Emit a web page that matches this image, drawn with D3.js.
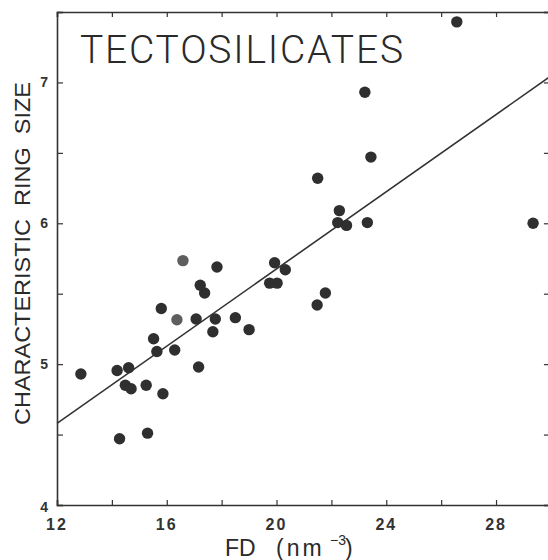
<!DOCTYPE html>
<html>
<head>
<meta charset="utf-8">
<script src="https://cdn.jsdelivr.net/npm/d3@7"></script>
<style>
  body { margin: 0; background: #fff; }
  svg { display: block; }
  text { white-space: pre; }
</style>
</head>
<body>
<div id="chart"></div>
<script>
// framework density vs characteristic ring size
const fd = [12.87, 14.19, 14.61, 14.49, 14.70, 15.25, 15.86, 14.28, 15.30, 17.16,
  15.52, 15.64, 16.29, 15.80, 16.37, 17.07, 17.77, 18.50, 17.68, 19.00,
  17.22, 17.38, 16.59, 17.83, 19.93, 20.32, 19.75, 20.02, 21.78, 21.48,
  22.29, 22.23, 22.55, 23.31, 21.50, 23.44, 23.22, 26.57, 29.35]
const ringSize = [4.93, 4.955, 4.975, 4.85, 4.825, 4.85, 4.79, 4.47, 4.51, 4.98,
  5.18, 5.09, 5.10, 5.395, 5.315, 5.32, 5.32, 5.33, 5.23, 5.245,
  5.56, 5.505, 5.735, 5.69, 5.72, 5.67, 5.575, 5.575, 5.505, 5.42,
  6.09, 6.005, 5.985, 6.005, 6.32, 6.47, 6.93, 7.43, 6.00]
// two points print lighter in the scan
const lighter = [14, 22]

// least squares line
const fitX = [12, 30]
const fitY = [4.58, 7.046]

const xTickLabels = [12, 16, 20, 24, 28]
const yTickLabels = [4, 5, 6, 7]

let width = 548
let height = 560
let margin = { top: 12, left: 57, bottom: 55 }

let x = d3.scaleLinear()
  .domain([12, 30])
  .range([margin.left, margin.left + 18 * 27.44])

let y = d3.scaleLinear()
  .domain([4, 7.5])
  .range([height - margin.bottom, margin.top])

let svg = d3.select("#chart")
  .append("svg")
  .attr("width", width)
  .attr("height", height)

const ink = "#333"

// frame: ticks point inward on all four sides
svg.append("g")
  .attr("transform", `translate(0,${y(4)})`)
  .call(d3.axisTop(x).tickValues(d3.range(12, 30.1, 2)).tickSize(5).tickFormat(""))
svg.append("g")
  .attr("transform", `translate(0,${y(7.5)})`)
  .call(d3.axisBottom(x).tickValues(d3.range(12, 30.1, 2)).tickSize(5).tickFormat(""))
svg.append("g")
  .attr("transform", `translate(${x(12)},0)`)
  .call(d3.axisRight(y).tickValues(d3.range(4, 7.51, 0.5)).tickSize(6).tickFormat(""))
svg.append("g")
  .attr("transform", `translate(${x(30)},0)`)
  .call(d3.axisLeft(y).tickValues(d3.range(4, 7.51, 0.5)).tickSize(7).tickFormat(""))

svg.selectAll(".domain").attr("stroke", ink).attr("stroke-width", 1.6)
svg.selectAll(".tick line").attr("stroke", ink).attr("stroke-width", 1.2)

// tick labels
svg.append("g")
  .selectAll("text")
  .data(xTickLabels)
  .enter().append("text")
  .attr("x", d => x(d))
  .attr("y", 530)
  .attr("text-anchor", "middle")
  .style("font-family", "Liberation Sans, Arial, sans-serif")
  .style("font-weight", "bold")
  .style("font-size", "16px")
  .style("letter-spacing", "2px")
  .attr("fill", ink)
  .text(d => d)

svg.append("g")
  .selectAll("text")
  .data(yTickLabels)
  .enter().append("text")
  .attr("x", 48)
  .attr("y", d => y(d) + (d == 4 ? 7 : 5))
  .attr("text-anchor", "end")
  .style("font-family", "Liberation Sans, Arial, sans-serif")
  .style("font-weight", "bold")
  .style("font-size", "14px")
  .attr("fill", ink)
  .text(d => d)

// fit line
svg.append("line")
  .attr("x1", x(fitX[0]))
  .attr("y1", y(fitY[0]))
  .attr("x2", x(fitX[1]))
  .attr("y2", y(fitY[1]))
  .attr("stroke", ink)
  .attr("stroke-width", 1.6)

// points
svg.append("g")
  .selectAll("circle")
  .data(fd)
  .enter().append("circle")
  .attr("cx", d => x(d))
  .attr("cy", (d, i) => y(ringSize[i]))
  .attr("r", 5.7)
  .attr("fill", (d, i) => lighter.includes(i) ? "#5e5e5e" : "#2f2f2f")

// titles
svg.append("text")
  .attr("x", 80)
  .attr("y", 63)
  .attr("textLength", 323)
  .attr("lengthAdjust", "spacing")
  .style("font-family", "Roboto, Liberation Sans, sans-serif")
  .style("font-weight", 300)
  .style("font-size", "39px")
  .attr("fill", "#2a2a2a")
  .text("TECTOSILICATES")

svg.append("text")
  .attr("transform", "translate(30,253.5) rotate(-90)")
  .attr("text-anchor", "middle")
  .attr("textLength", 343)
  .attr("lengthAdjust", "spacingAndGlyphs")
  .style("font-family", "Liberation Sans, sans-serif")
  .style("font-size", "22px")
  .attr("fill", "#2a2a2a")
  .text("CHARACTERISTIC  RING  SIZE")

let xTitle = svg.append("text")
  .attr("y", 556)
  .style("font-family", "Liberation Sans, sans-serif")
  .style("font-size", "23px")
  .attr("fill", "#2a2a2a")
xTitle.append("tspan").attr("x", 225).text("FD")
xTitle.append("tspan").attr("x", 276).style("letter-spacing", "3px").text("(nm")
xTitle.append("tspan").attr("x", 330).attr("dy", -11).style("font-size", "14px").text("\u22123")
xTitle.append("tspan").attr("x", 345).attr("dy", 11).text(")")
</script>
</body>
</html>
